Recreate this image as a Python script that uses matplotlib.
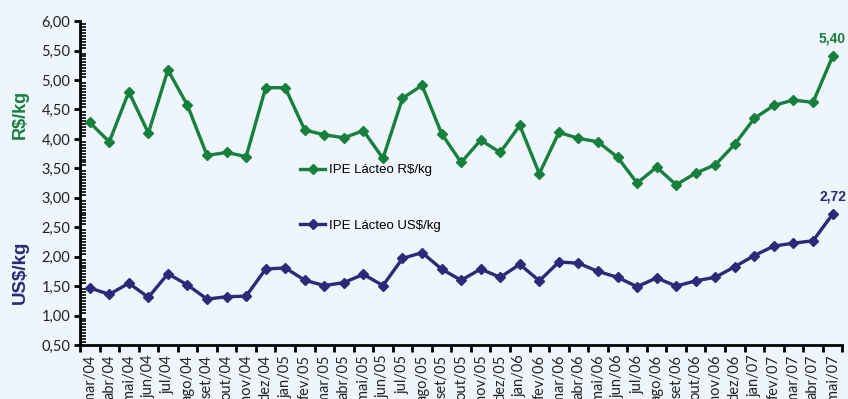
import numpy as np
import matplotlib
matplotlib.use('Agg')
import matplotlib.pyplot as plt
from matplotlib.ticker import MultipleLocator, FixedLocator, NullFormatter

# Monthly IPE Lácteo price index, mar/04 - mai/07
months = ['mar/04', 'abr/04', 'mai/04', 'jun/04', 'jul/04', 'ago/04', 'set/04', 'out/04',
          'nov/04', 'dez/04', 'jan/05', 'fev/05', 'mar/05', 'abr/05', 'mai/05', 'jun/05',
          'jul/05', 'ago/05', 'set/05', 'out/05', 'nov/05', 'dez/05', 'jan/06', 'fev/06',
          'mar/06', 'abr/06', 'mai/06', 'jun/06', 'jul/06', 'ago/06', 'set/06', 'out/06',
          'nov/06', 'dez/06', 'jan/07', 'fev/07', 'mar/07', 'abr/07', 'mai/07']

ipe_brl = [4.28, 3.95, 4.80, 4.10, 5.17, 4.57, 3.72, 3.77, 3.70, 4.87, 4.87,
           4.15, 4.07, 4.02, 4.14, 3.67, 4.69, 4.91, 4.09, 3.60, 3.98, 3.77,
           4.23, 3.41, 4.11, 4.01, 3.95, 3.69, 3.25, 3.52, 3.22, 3.42, 3.56,
           3.91, 4.35, 4.57, 4.66, 4.62, 5.40]

ipe_usd = [1.47, 1.36, 1.55, 1.31, 1.71, 1.52, 1.28, 1.32, 1.33, 1.79, 1.81,
           1.60, 1.51, 1.56, 1.70, 1.51, 1.97, 2.07, 1.79, 1.60, 1.79, 1.65,
           1.87, 1.59, 1.91, 1.89, 1.75, 1.65, 1.49, 1.64, 1.50, 1.59, 1.65,
           1.83, 2.02, 2.18, 2.23, 2.27, 2.72]

green = '#16803C'
navy = '#2A2A78'
bg = '#EEF5FC'

fig = plt.figure(figsize=(8.48, 3.99), dpi=100, facecolor=bg)
ax = fig.add_axes([0.0943, 0.1353, 0.899, 0.8117], facecolor=bg)

x = np.arange(len(months))
l_brl, = ax.plot(x, ipe_brl, color=green, lw=2.4, marker='D', ms=5.5,
                 label='IPE Lácteo R$/kg')
l_usd, = ax.plot(x, ipe_usd, color=navy, lw=2.4, marker='D', ms=5.5,
                 label='IPE Lácteo US$/kg')

ax.set_xlim(-0.5, len(months) - 0.5)
ax.set_ylim(0.5, 6.0)

for s in ['top', 'right']:
    ax.spines[s].set_visible(False)
for s in ['left', 'bottom']:
    ax.spines[s].set_linewidth(2)

# y axis: major ticks outward, fine minor ticks inward
ax.yaxis.set_major_locator(MultipleLocator(0.5))
ax.yaxis.set_minor_locator(MultipleLocator(0.05))
ax.set_yticklabels([f'{v:.2f}'.replace('.', ',') for v in ax.get_yticks()])
ax.tick_params(axis='y', which='major', direction='out', length=4, width=2,
               labelsize=10.5, pad=3, labelcolor='#222222')
ax.tick_params(axis='y', which='minor', direction='in', length=4, width=1.2)

# x axis: ticks between months, labels centred on each month
ax.xaxis.set_major_locator(FixedLocator(np.arange(-0.5, len(months), 1.0)))
ax.xaxis.set_major_formatter(NullFormatter())
ax.xaxis.set_minor_locator(FixedLocator(x))
ax.set_xticks(x, months, minor=True, rotation=90)
ax.tick_params(axis='x', which='major', direction='out', length=5, width=2)
ax.tick_params(axis='x', which='minor', length=0, labelsize=10.5, pad=7,
               labelcolor='#222222')
for lab in ax.get_xticklabels(minor=True) + ax.get_yticklabels():
    lab.set_family('Lato')
for lab in ax.get_xticklabels(minor=True):
    lab.set_verticalalignment('top')

fig.text(0.024, 0.712, 'R$/kg', color=green, rotation=90, fontsize=13,
         fontweight='bold', family='Liberation Sans', ha='center', va='center')
fig.text(0.024, 0.318, 'US$/kg', color=navy, rotation=90, fontsize=13.5,
         fontweight='bold', family='Liberation Sans', ha='center', va='center')

# last value labels
ax.annotate(f'{ipe_brl[-1]:.2f}'.replace('.', ','), (x[-1], ipe_brl[-1]),
            xytext=(0, 8), textcoords='offset points', ha='center', va='bottom',
            color=green, fontsize=10, fontweight='bold', family='Liberation Sans')
ax.annotate(f'{ipe_usd[-1]:.2f}'.replace('.', ','), (x[-1], ipe_usd[-1]),
            xytext=(0, 8), textcoords='offset points', ha='center', va='bottom',
            color=navy, fontsize=10, fontweight='bold', family='Liberation Sans')

leg_kw = dict(frameon=False, loc='center left', handlelength=1.9, handletextpad=0.25,
              borderpad=0, borderaxespad=0,
              prop={'family': 'Liberation Sans', 'size': 9.5})
leg1 = ax.legend(handles=[l_brl], bbox_to_anchor=(0.289, 0.54), **leg_kw)
ax.add_artist(leg1)
ax.legend(handles=[l_usd], bbox_to_anchor=(0.289, 0.3675), **leg_kw)

fig.savefig('out.png', dpi=100, facecolor=bg)
